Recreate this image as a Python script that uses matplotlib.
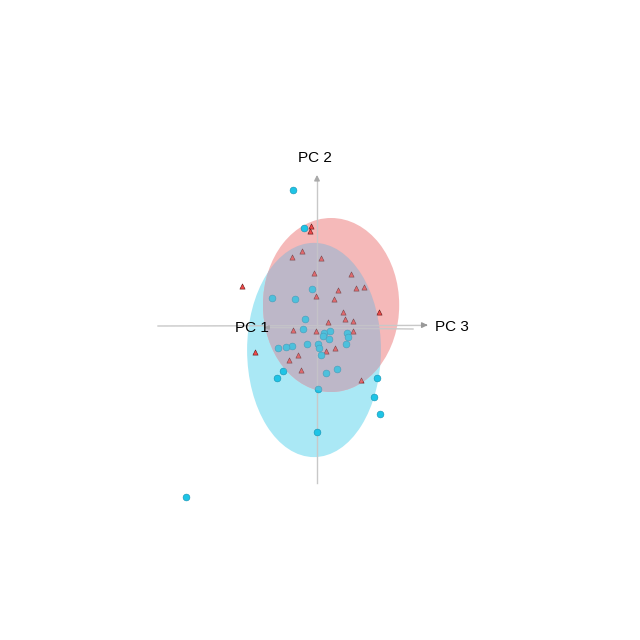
import matplotlib
matplotlib.use("Agg")
import matplotlib.pyplot as plt
from matplotlib.patches import Ellipse

plt.rcParams['font.family'] = ['Liberation Sans', 'DejaVu Sans']

# PCA scores as seen on screen (PC 3 across, PC 2 up)
red_pc3 = [-0.20, -0.23, -0.50, -0.83, 0.13, -0.10, 1.13, -2.50, 0.70, 1.30,
           1.57, -0.03, 0.57, 0.87, 2.07, 0.93, 1.20, 0.37, -0.80, -0.03,
           1.20, -2.07, -0.63, -0.93, 0.30, 0.60, -0.53, 1.47]
red_pc2 = [3.33, 3.17, 2.50, 2.30, 2.27, 1.77, 1.73, 1.33, 1.20, 1.27,
           1.30, 1.00, 0.90, 0.47, 0.47, 0.23, 0.17, 0.13, -0.13, -0.17,
           -0.17, -0.87, -0.97, -1.13, -0.83, -0.73, -1.47, -1.80]

blue_pc3 = [-0.80, -0.43, -0.17, -1.50, -0.73, -0.40, -0.47, 0.23, 0.43, 0.20,
            0.40, 1.00, 1.03, -0.33, 0.03, 0.07, -0.83, -1.03, -1.30, 0.97,
            0.13, 0.67, 0.30, -1.13, -1.33, 2.00, 0.03, 1.90, 2.10, 0.00, -4.37]
blue_pc2 = [4.53, 3.27, 1.23, 0.93, 0.90, 0.23, -0.10, -0.23, -0.17, -0.33,
            -0.43, -0.23, -0.37, -0.60, -0.60, -0.73, -0.67, -0.70, -0.73, -0.60,
            -0.97, -1.43, -1.57, -1.50, -1.73, -1.73, -2.10, -2.37, -2.93, -3.53, -5.70]

# group ellipses: centre (pc3, pc2) and half-axes
red_centre, red_axes = (0.47, 0.70), (2.27, 2.90)
blue_centre, blue_axes = (-0.10, -0.80), (2.23, 3.57)

fig = plt.figure(figsize=(6.4, 6.4), dpi=100)
ax = fig.add_axes([0, 0, 1, 1])
ax.set_xlim(-317 / 30, 323 / 30)
ax.set_ylim(-314 / 30, 326 / 30)
ax.set_aspect('equal')
ax.axis('off')

blue_ell = Ellipse(blue_centre, 2 * blue_axes[0], 2 * blue_axes[1],
                   facecolor='#aae8f5', edgecolor='none', zorder=1)
red_ell = Ellipse(red_centre, 2 * red_axes[0], 2 * red_axes[1],
                  facecolor='#f5b9b9', edgecolor='none', zorder=1)
ax.add_patch(blue_ell)
ax.add_patch(red_ell)
both = Ellipse(red_centre, 2 * red_axes[0], 2 * red_axes[1],
               facecolor='#bdb7c8', edgecolor='none', zorder=1.2)
ax.add_patch(both)
both.set_clip_path(blue_ell)

# axes
grey = '#c8c8c8'
ax.plot([-5.3, 3.65], [0.0, 0.02], color=grey, lw=1, zorder=2)
ax.plot([3.2, -1.75], [-0.1, -0.05], color=grey, lw=1, zorder=2)
ax.plot([0, 0], [-5.23, 4.9], color=grey, lw=1, zorder=2)
ax.annotate('', xy=(3.78, 0.03), xytext=(3.5, 0.03),
            arrowprops=dict(arrowstyle='-|>', color='#999999', lw=1, mutation_scale=8), zorder=2)
ax.annotate('', xy=(0, 5.13), xytext=(0, 4.8),
            arrowprops=dict(arrowstyle='-|>', color='#aaaaaa', lw=1, mutation_scale=8), zorder=2)
ax.annotate('', xy=(-1.85, -0.05), xytext=(-1.6, -0.05),
            arrowprops=dict(arrowstyle='-|>', color='#999999', lw=1, mutation_scale=6), zorder=2)

ax.text(-2.17, -0.07, 'PC 1', fontsize=11, ha='center', va='center', zorder=5)
ax.text(4.5, -0.03, 'PC 3', fontsize=11, ha='center', va='center', zorder=5)
ax.text(-0.07, 5.6, 'PC 2', fontsize=11, ha='center', va='center', zorder=5)

# points
ax.scatter(red_pc3, red_pc2, marker='^', s=14, facecolor='#f24848',
           edgecolor='#5a1818', linewidths=0.4, zorder=3)
ax.scatter(blue_pc3, blue_pc2, marker='o', s=24, facecolor='#1ec4e6',
           edgecolor='#1590b0', linewidths=0.4, zorder=3)

# the overlap is a translucent shell in front of the inner points
veil = Ellipse(red_centre, 2 * red_axes[0], 2 * red_axes[1],
               facecolor='#bdb7c8', edgecolor='none', alpha=0.3, zorder=4)
ax.add_patch(veil)
veil.set_clip_path(blue_ell)

fig.savefig('out.png', dpi=100, facecolor='white')
